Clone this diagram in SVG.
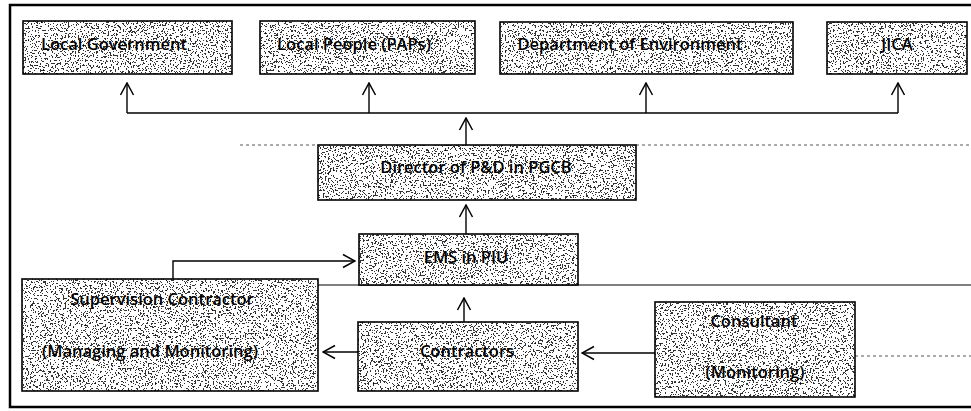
<svg xmlns="http://www.w3.org/2000/svg" width="971" height="411" viewBox="0 0 971 411">
  <defs>
    <!-- speckled shading used inside every box -->
    <filter id="stipple" x="0" y="0" width="100%" height="100%" color-interpolation-filters="sRGB">
      <feTurbulence type="fractalNoise" baseFrequency="0.6" numOctaves="2" seed="7" result="noise"/>
      <feColorMatrix in="noise" type="matrix" values="0 0 0 0 0  0 0 0 0 0  0 0 0 0 0  1 0 0 0 0" result="mask"/>
      <feComponentTransfer in="mask" result="dots">
        <feFuncA type="discrete" tableValues="0 0 0 0.8 1"/>
      </feComponentTransfer>
      <feComposite in="dots" in2="SourceGraphic" operator="in"/>
    </filter>
    <marker id="arrow" viewBox="0 0 14 16" refX="13" refY="8" markerWidth="14" markerHeight="16" markerUnits="userSpaceOnUse" orient="auto">
      <path d="M1,1.5 L13,8 L1,14.5" fill="none" stroke="#000" stroke-width="1.5"/>
    </marker>
  </defs>
  <style>
    .frame { fill: none; stroke: #000; stroke-width: 2.5; }
    .box-bg { fill: #fff; stroke: #000; stroke-width: 1.6; }
    .box-dots { fill: #000; filter: url(#stipple); }
    .label { font-family: "Open Sans", "Liberation Sans", sans-serif; font-size: 16.5px; font-weight: 600; fill: #000; text-anchor: middle; }
    .link { fill: none; stroke: #000; stroke-width: 1.4; }
    .arrow { marker-end: url(#arrow); }
    .faint { fill: none; stroke: #555; stroke-width: 1; stroke-dasharray: 3 3; }
    .rule { fill: none; stroke: #000; stroke-width: 1.2; }
  </style>

  <rect width="971" height="411" fill="#fff"/>

  <!-- outer frame (open on the right) -->
  <path class="frame" d="M971,5 L10,5 L10,407 L971,407"/>

  <!-- guide lines across the chart -->
  <g id="guides">
    <path class="faint" d="M240,145 L318,145"/>
    <path class="faint" d="M636,145 L971,145"/>
    <path class="rule" d="M318,285 L971,285"/>
    <path class="faint" d="M855,356 L971,356"/>
  </g>

  <g id="connectors">
    <path class="link" d="M127,113 L898,113"/>
    <path class="link arrow" d="M127,113 L127,83"/>
    <path class="link arrow" d="M369,113 L369,83"/>
    <path class="link arrow" d="M646,113 L646,83"/>
    <path class="link arrow" d="M898,113 L898,83"/>
    <path class="link arrow" d="M466,145 L466,118"/>
    <path class="link arrow" d="M466,234 L466,205"/>
    <path class="link arrow" d="M173,279 L173,261 L355,261"/>
    <path class="link arrow" d="M464,322 L464,298"/>
    <path class="link arrow" d="M358,352 L323,352"/>
    <path class="link arrow" d="M655,353 L582,353"/>
  </g>

  <g id="local-government">
    <rect class="box-bg" x="23" y="21" width="209" height="53"/>
    <rect class="box-dots" x="23" y="21" width="209" height="53"/>
    <text class="label" x="114" y="50">Local Government</text>
  </g>

  <g id="local-people">
    <rect class="box-bg" x="260" y="21" width="215" height="53"/>
    <rect class="box-dots" x="260" y="21" width="215" height="53"/>
    <text class="label" x="354" y="50">Local People (PAPs)</text>
  </g>

  <g id="department-of-environment">
    <rect class="box-bg" x="500" y="22" width="293" height="52"/>
    <rect class="box-dots" x="500" y="22" width="293" height="52"/>
    <text class="label" x="630" y="50">Department of Environment</text>
  </g>

  <g id="jica">
    <rect class="box-bg" x="827" y="22" width="140" height="52"/>
    <rect class="box-dots" x="827" y="22" width="140" height="52"/>
    <text class="label" x="897" y="50">JICA</text>
  </g>

  <g id="director">
    <rect class="box-bg" x="318" y="145" width="318" height="55"/>
    <rect class="box-dots" x="318" y="145" width="318" height="55"/>
    <text class="label" x="476" y="173">Director of P&amp;D in PGCB</text>
  </g>

  <g id="ems-piu">
    <rect class="box-bg" x="359" y="234" width="219" height="51"/>
    <rect class="box-dots" x="359" y="234" width="219" height="51"/>
    <text class="label" x="466" y="263">EMS in PIU</text>
  </g>

  <g id="supervision-contractor">
    <rect class="box-bg" x="22" y="279" width="296" height="112"/>
    <rect class="box-dots" x="22" y="279" width="296" height="112"/>
    <text class="label" x="162" y="305">Supervision Contractor</text>
    <text class="label" x="150" y="357">(Managing and Monitoring)</text>
  </g>

  <g id="contractors">
    <rect class="box-bg" x="358" y="322" width="220" height="69"/>
    <rect class="box-dots" x="358" y="322" width="220" height="69"/>
    <text class="label" x="467" y="357">Contractors</text>
  </g>

  <g id="consultant">
    <rect class="box-bg" x="655" y="302" width="200" height="95"/>
    <rect class="box-dots" x="655" y="302" width="200" height="95"/>
    <text class="label" x="754" y="327">Consultant</text>
    <text class="label" x="755" y="378">(Monitoring)</text>
  </g>
</svg>
